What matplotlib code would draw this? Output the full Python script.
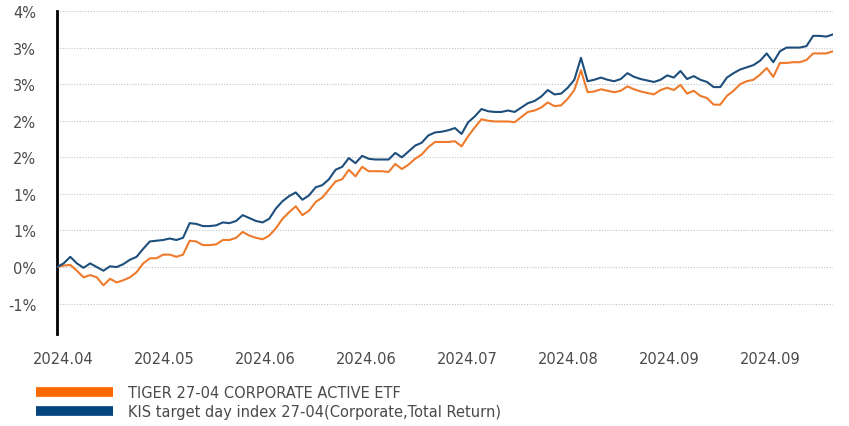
import matplotlib
matplotlib.use("Agg")
import matplotlib.pyplot as plt
from matplotlib.lines import Line2D
import numpy as np

etf_label = "TIGER 27-04 CORPORATE ACTIVE ETF"
idx_label = "KIS target day index 27-04(Corporate,Total Return)"

etf = [0.00, 0.02, 0.03, -0.05, -0.14, -0.11, -0.14, -0.25, -0.16, -0.21,
       -0.18, -0.14, -0.07, 0.05, 0.12, 0.12, 0.17, 0.17, 0.14, 0.17,
       0.36, 0.35, 0.30, 0.30, 0.31, 0.37, 0.37, 0.40, 0.48, 0.43,
       0.40, 0.38, 0.43, 0.53, 0.66, 0.75, 0.83, 0.71, 0.77, 0.89,
       0.95, 1.06, 1.17, 1.20, 1.33, 1.24, 1.37, 1.31, 1.31, 1.31,
       1.30, 1.41, 1.34, 1.40, 1.48, 1.54, 1.64, 1.71, 1.71, 1.71,
       1.72, 1.65, 1.79, 1.91, 2.02, 2.00, 1.99, 1.99, 1.99, 1.98,
       2.05, 2.12, 2.14, 2.18, 2.25, 2.20, 2.21, 2.30, 2.42, 2.69,
       2.39, 2.40, 2.43, 2.41, 2.39, 2.41, 2.47, 2.43, 2.40, 2.38,
       2.36, 2.42, 2.45, 2.42, 2.49, 2.37, 2.41, 2.34, 2.31, 2.22,
       2.22, 2.34, 2.41, 2.50, 2.54, 2.56, 2.63, 2.72, 2.60, 2.79,
       2.79, 2.80, 2.80, 2.83, 2.92, 2.92, 2.92, 2.95]

index = [0.00, 0.05, 0.14, 0.05, -0.01, 0.05, 0.00, -0.05, 0.01, 0.00,
         0.04, 0.10, 0.14, 0.25, 0.35, 0.36, 0.37, 0.39, 0.37, 0.40,
         0.60, 0.59, 0.56, 0.56, 0.57, 0.61, 0.60, 0.63, 0.71, 0.67,
         0.63, 0.61, 0.66, 0.80, 0.90, 0.97, 1.02, 0.92, 0.98, 1.09,
         1.12, 1.20, 1.33, 1.37, 1.49, 1.42, 1.52, 1.48, 1.47, 1.47,
         1.47, 1.56, 1.50, 1.58, 1.66, 1.70, 1.80, 1.84, 1.85, 1.87,
         1.90, 1.82, 1.98, 2.06, 2.16, 2.13, 2.12, 2.12, 2.14, 2.12,
         2.18, 2.24, 2.27, 2.33, 2.42, 2.36, 2.37, 2.45, 2.56, 2.86,
         2.54, 2.56, 2.59, 2.56, 2.54, 2.57, 2.65, 2.60, 2.57, 2.55,
         2.53, 2.56, 2.62, 2.59, 2.68, 2.57, 2.61, 2.56, 2.53, 2.46,
         2.46, 2.59, 2.65, 2.70, 2.73, 2.76, 2.82, 2.92, 2.80, 2.95,
         3.00, 3.00, 3.00, 3.02, 3.16, 3.16, 3.15, 3.18]

x_tick_labels = ["2024.04", "2024.05", "2024.06", "2024.06",
                 "2024.07", "2024.08", "2024.09", "2024.09"]
y_tick_values = [-0.5, 0.0, 0.5, 1.0, 1.5, 2.0, 2.5, 3.0, 3.5]
y_tick_labels = ["-1%", "0%", "1%", "1%", "2%", "2%", "3%", "3%", "4%"]

ORANGE = "#EE7A2C"
BLUE = "#1E4F7C"
ORANGE_LEG = "#FF6A00"
BLUE_LEG = "#05467F"
TXT = "#4A4A4A"

fig = plt.figure(figsize=(8.49, 4.27), dpi=100)
ax = fig.add_axes([57/849, 1-335/427, (833-57)/849, (335-12)/427])

n = len(etf)
x = np.arange(n)
ax.plot(x, etf, color=ORANGE, lw=1.5, solid_joinstyle="round", zorder=3)
ax.plot(x, index, color=BLUE, lw=1.5, solid_joinstyle="round", zorder=4)

ax.set_xlim(0, n - 1)
ax.set_ylim(-0.915, 3.5)

ax.set_yticks(y_tick_values)
ax.set_yticklabels(y_tick_labels)
xpos = [0.9 + 15.23 * k for k in range(len(x_tick_labels))]
ax.set_xticks(xpos)
ax.set_xticklabels(x_tick_labels)

ax.tick_params(axis="both", length=0, labelsize=10.5, labelcolor=TXT)
ax.tick_params(axis="y", pad=15)
ax.tick_params(axis="x", pad=12)

ax.grid(axis="y", color="#C4C4C4", linestyle=(0, (1, 1.5)), lw=0.8)
ax.grid(axis="x", visible=False)
ax.set_axisbelow(True)

for s in ["top", "right", "bottom"]:
    ax.spines[s].set_visible(False)
ax.spines["left"].set_color("#000000")
ax.spines["left"].set_linewidth(2)

handles = [Line2D([], [], color=ORANGE_LEG, lw=7, solid_capstyle="butt"),
           Line2D([], [], color=BLUE_LEG, lw=7, solid_capstyle="butt")]
leg = fig.legend(handles, [etf_label, idx_label], loc="upper left",
                 bbox_to_anchor=(36/849, 1 - 386/427), frameon=False,
                 handlelength=5.3, handletextpad=1.0, labelspacing=0.3,
                 borderaxespad=0, borderpad=0, fontsize=10.5)
for t in leg.get_texts():
    t.set_color(TXT)

fig.savefig("out.png", dpi=100)
